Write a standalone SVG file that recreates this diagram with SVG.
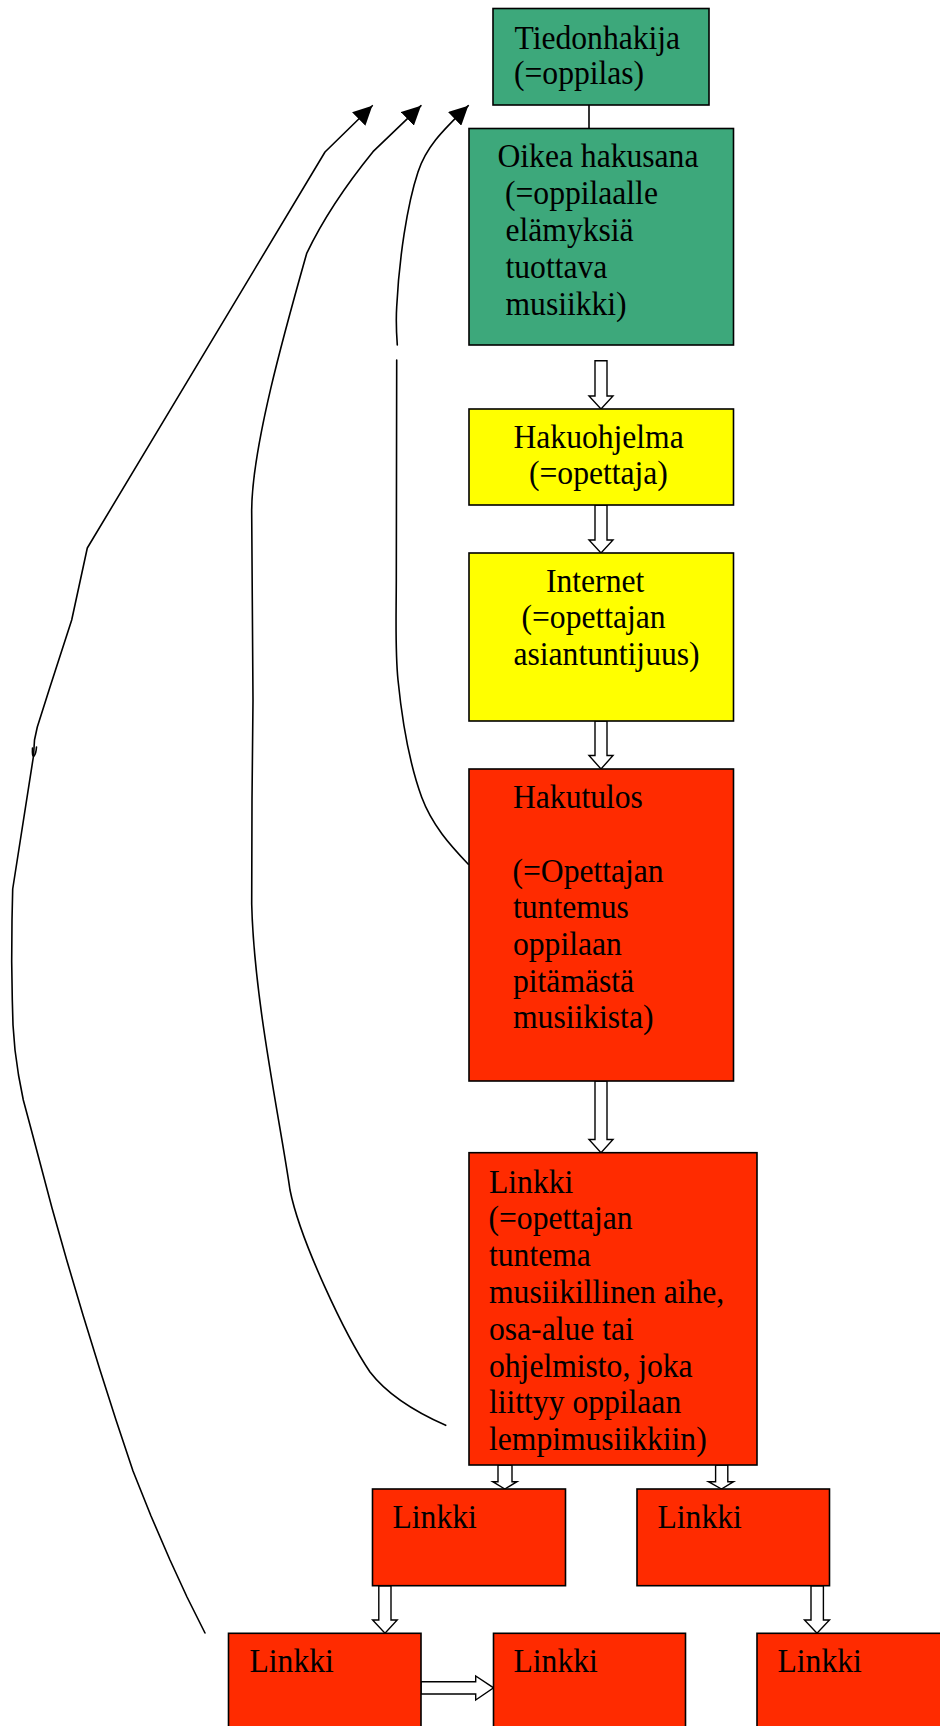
<svg xmlns="http://www.w3.org/2000/svg" width="940" height="1726" viewBox="0 0 940 1726">
<style>
.box{stroke:#000;stroke-width:1.6}
.g{fill:#3DA87B}
.y{fill:#FFFF00}
.r{fill:#FF2B00}
text{font-family:"Liberation Serif","Times New Roman",serif;font-size:33px;fill:#000}
.hol{fill:#fff;stroke:#000;stroke-width:1.4;stroke-linejoin:miter}
.cur{fill:none;stroke:#000;stroke-width:1.6;stroke-linejoin:round;stroke-linecap:round}
</style>
<defs>
<marker id="ah" viewBox="0 0 19 19" refX="19" refY="9.5" markerUnits="userSpaceOnUse" markerWidth="19" markerHeight="19" orient="auto">
<path d="M0,0 L19,9.5 L0,19 z" fill="#000"/>
</marker>
</defs>
<rect width="940" height="1726" fill="#fff"/>

<g id="connectors">
<line x1="589" y1="104.8" x2="589" y2="128.5" stroke="#000" stroke-width="1.6"/>
<path class="hol" d="M595 360.7 L607 360.7 L607 396 L613 396 L601 409 L589 396 L595 396 Z"/>
<path class="hol" d="M595 505 L607 505 L607 540 L613 540 L601 553 L589 540 L595 540 Z"/>
<path class="hol" d="M595 721 L607 721 L607 755.5 L613 755.5 L601 769 L589 755.5 L595 755.5 Z"/>
<path class="hol" d="M595 1081 L607 1081 L607 1139.5 L613 1139.5 L601 1152.7 L589 1139.5 L595 1139.5 Z"/>
<path class="hol" d="M498 1465 L512 1465 L512 1481.7 L517 1481.7 L504.8 1489 L492.7 1481.7 L498 1481.7 Z"/>
<path class="hol" d="M715.6 1465 L727.8 1465 L727.8 1481.7 L733.6 1481.7 L721.5 1489 L708.4 1481.7 L715.6 1481.7 Z"/>
<path class="hol" d="M378.8 1585.7 L391 1585.7 L391 1620 L397.2 1620 L385 1633.3 L372.6 1620 L378.8 1620 Z"/>
<path class="hol" d="M811 1585.7 L823.4 1585.7 L823.4 1620 L829.5 1620 L817 1633.3 L804.5 1620 L811 1620 Z"/>
<path class="hol" d="M421 1681.7 L475.7 1681.7 L475.7 1676 L493.6 1687.8 L475.7 1700 L475.7 1694 L421 1694 Z"/>
<path class="cur" marker-end="url(#ah)" d="M205 1633 L187 1597 L170 1560 L151 1516 L133 1471 L116 1420 L100 1370 L83 1315 L66.7 1260 L52 1208 L39.3 1160 L30 1125 L23.3 1100 L18.5 1075 L15 1050 L13 1025 L12.3 1000 L11.7 962 L12 920 L12.7 889 L33.5 756 L34.5 740 L37.3 727 L50 687 L71.7 620 L87.3 548 L325 152 L372.3 105.7"/>
<path class="cur" d="M32.5 748 Q32 757 34 756 Q36 754 36.5 747"/>
<path class="cur" marker-end="url(#ah)" d="M445.7 1425.3 C420 1414 390 1398 370 1372 C345 1335 300 1240 290 1190 C280 1120 254 1000 251.7 904 L252 800 L253 700 L252.3 600 L251.7 513 C251 450 285 330 306.7 253.3 C325 215 350 180 373 151.7 L421 105.7"/>
<path class="cur" d="M468.3 864.2 C450 845 432 825 421.7 797.3 C410 765 402 720 398 680 C395 650 396.2 620 396.3 580 L396.7 360"/>
<path class="cur" marker-end="url(#ah)" d="M397.3 345 C396.2 330 396 318 396.7 306.7 C399 260 407 205 418 172 C426 148 440 133 468.3 105.7"/>
</g>

<g id="tiedonhakija">
<rect class="box g" x="493" y="8.5" width="216" height="96.5"/>
<text transform="translate(514.5,49) scale(0.958,1)">Tiedonhakija</text>
<text transform="translate(514,84) scale(0.958,1)">(=oppilas)</text>
</g>
<g id="oikea-hakusana">
<rect class="box g" x="469" y="128.5" width="264.5" height="216.5"/>
<text transform="translate(497.5,166.7) scale(0.958,1)">Oikea hakusana</text>
<text transform="translate(505,203.5) scale(0.958,1)">(=oppilaalle</text>
<text transform="translate(505.5,240.5) scale(0.958,1)">elämyksiä</text>
<text transform="translate(505.5,277.5) scale(0.958,1)">tuottava</text>
<text transform="translate(505.5,314.5) scale(0.958,1)">musiikki)</text>
</g>
<g id="hakuohjelma">
<rect class="box y" x="469" y="409" width="264.5" height="96"/>
<text transform="translate(513.5,448.3) scale(0.958,1)">Hakuohjelma</text>
<text transform="translate(529,484) scale(0.958,1)">(=opettaja)</text>
</g>
<g id="internet">
<rect class="box y" x="469" y="553" width="264.5" height="168"/>
<text transform="translate(546,592.3) scale(0.958,1)">Internet</text>
<text transform="translate(521.5,628.3) scale(0.958,1)">(=opettajan</text>
<text transform="translate(513.5,665) scale(0.958,1)">asiantuntijuus)</text>
</g>
<g id="hakutulos">
<rect class="box r" x="469" y="769" width="264.5" height="312"/>
<text transform="translate(513,808.3) scale(0.958,1)">Hakutulos</text>
<text transform="translate(512.5,881.7) scale(0.958,1)">(=Opettajan</text>
<text transform="translate(513,918.3) scale(0.958,1)">tuntemus</text>
<text transform="translate(513,955) scale(0.958,1)">oppilaan</text>
<text transform="translate(513,991.7) scale(0.958,1)">pitämästä</text>
<text transform="translate(513,1028.3) scale(0.958,1)">musiikista)</text>
</g>
<g id="linkki-main">
<rect class="box r" x="469" y="1152.7" width="288" height="312.3"/>
<text transform="translate(489,1192.7) scale(0.958,1)">Linkki</text>
<text transform="translate(488.5,1229.3) scale(0.958,1)">(=opettajan</text>
<text transform="translate(489,1266) scale(0.958,1)">tuntema</text>
<text transform="translate(489,1303.3) scale(0.958,1)">musiikillinen aihe,</text>
<text transform="translate(489,1340) scale(0.958,1)">osa-alue tai</text>
<text transform="translate(489,1376.7) scale(0.958,1)">ohjelmisto, joka</text>
<text transform="translate(489,1413.3) scale(0.958,1)">liittyy oppilaan</text>
<text transform="translate(489,1450) scale(0.958,1)">lempimusiikkiin)</text>
</g>
<g id="linkki-2a">
<rect class="box r" x="372.5" y="1489" width="193" height="96.7"/>
<text transform="translate(392.5,1528.3) scale(0.958,1)">Linkki</text>
</g>
<g id="linkki-2b">
<rect class="box r" x="637" y="1489" width="192.5" height="96.7"/>
<text transform="translate(657.5,1528.3) scale(0.958,1)">Linkki</text>
</g>
<g id="linkki-3a">
<rect class="box r" x="228.5" y="1633.3" width="192.5" height="120"/>
<text transform="translate(249.5,1671.7) scale(0.958,1)">Linkki</text>
</g>
<g id="linkki-3b">
<rect class="box r" x="493.5" y="1633.3" width="192" height="120"/>
<text transform="translate(513.5,1671.7) scale(0.958,1)">Linkki</text>
</g>
<g id="linkki-3c">
<rect class="box r" x="757" y="1633.3" width="192" height="120"/>
<text transform="translate(777.5,1671.7) scale(0.958,1)">Linkki</text>
</g>
</svg>
